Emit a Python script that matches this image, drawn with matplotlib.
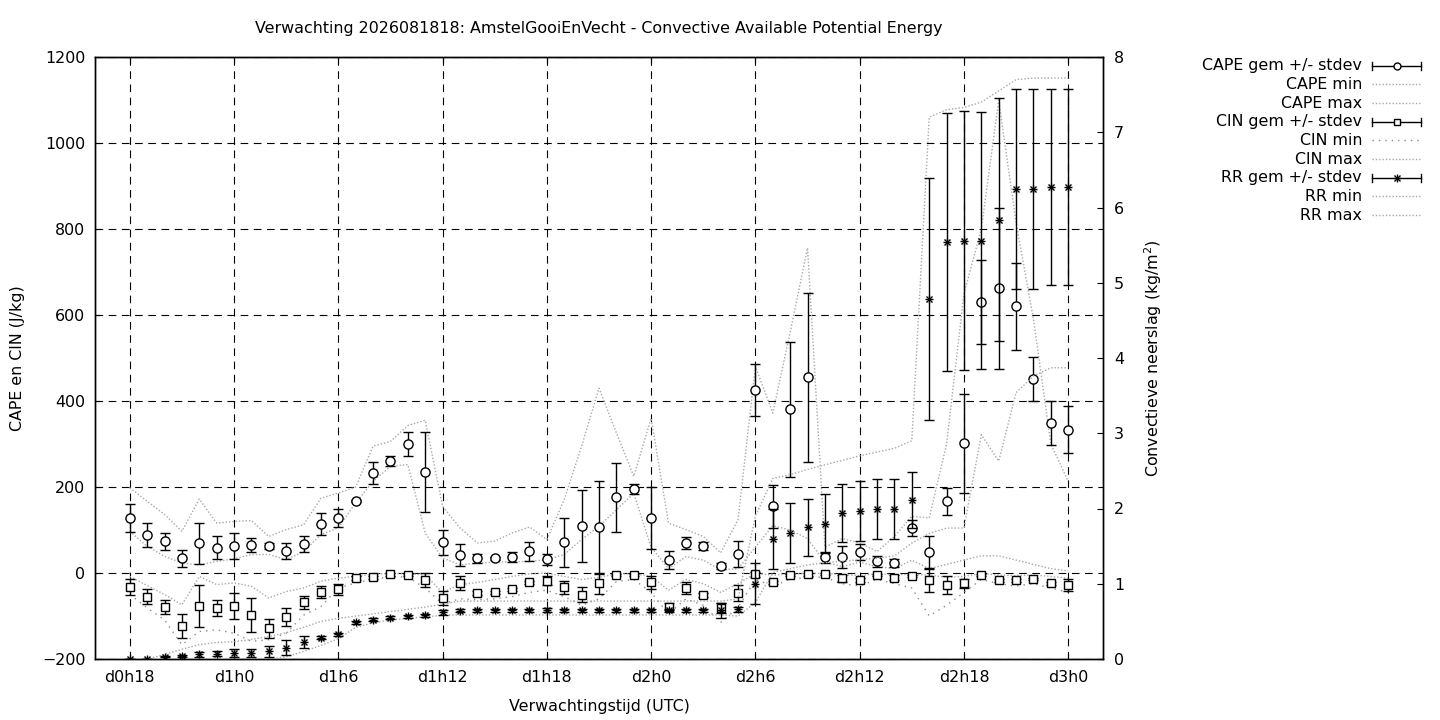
import matplotlib
matplotlib.use('Agg')
import matplotlib.pyplot as plt
from matplotlib.lines import Line2D

FS = 11.4
plt.rcParams['font.family'] = ['DejaVu Sans']
plt.rcParams['font.size'] = FS
plt.rcParams['lines.scale_dashes'] = False

# ---------------- data ----------------
hours = list(range(18, 73))
tick_hours = [18, 24, 30, 36, 42, 48, 54, 60, 66, 72]
tick_labels = ['d0h18', 'd1h0', 'd1h6', 'd1h12', 'd1h18', 'd2h0', 'd2h6', 'd2h12', 'd2h18', 'd3h0']

cape_mean = [128, 88, 74, 34, 69, 59, 63, 65, 63, 51, 67, 114, 128,
             167, 233, 260, 299, 235,
             71, 42, 34, 34, 37, 51, 32, 71, 109, 106, 176, 195,
             127, 30, 70, 63, 16, 44,
             425, 155, 381, 455, 37, 37, 49, 27,
             23, 104, 48, 167, 302, 630, 662, 620, 451, 348, 333]
cape_sd = [33, 28, 20, 19, 47, 27, 31, 16, 7, 19, 19, 25, 22,
           3, 25, 12, 28, 93,
           30, 25, 10, 4, 11, 22, 13, 57, 84, 108, 80, 11,
           72, 21, 14, 10, 7, 31,
           60, 50, 157, 196, 13, 26, 18, 13,
           10, 19, 38, 31, 115, 97, 187, 102, 52, 51, 55]
cape_min = [97, 62, 39, 23, 19, 27, 33, 43, 43, 31, 50, 89, 105,
            163, 213, 248, 252, 93,
            35, 19, 23, 25, 26, 27, 31, 43, 78, 109, 147, 185,
            60, 10, 38, 30, 7, 10,
            60, 110, 100, 80, 25, 15, 25, 15,
            10, 30, 10, 20, 30, 40, 40, 30, 20, 10, 5]
cape_max = [198, 167, 136, 97, 172, 116, 120, 122, 85, 101, 112, 174, 186,
            200, 295, 306, 343, 355,
            155, 105, 70, 74, 93, 107, 78, 171, 295, 430, 326, 225,
            360, 116, 101, 85, 47, 124,
            480, 372, 560, 756, 60, 80, 70, 50,
            85, 132, 128, 300, 650, 800, 1100, 814, 590, 300, 213]

cin_mean = [-32, -55, -79, -123, -77, -82, -77, -98, -129, -102, -68, -44, -38,
            -12, -10, -3, -5, -16,
            -58, -23, -47, -45, -38, -22, -18, -33, -50, -24, -5, -5,
            -22, -78, -34, -51, -82, -47,
            -3, -22, -5, -3, -2, -12, -16, -5,
            -11, -7, -17, -28, -24, -5, -17, -17, -14, -24, -28]
cin_sd = [18, 18, 17, 27, 48, 19, 31, 40, 21, 21, 15, 14, 12,
          4, 3, 3, 3, 17,
          16, 17, 4, 4, 3, 3, 10, 15, 17, 24, 3, 3,
          15, 8, 14, 5, 12, 19,
          6, 4, 3, 3, 3, 8, 4, 3,
          6, 3, 28, 21, 11, 3, 4, 4, 3, 3, 13]
cin_min = [-50, -81, -109, -167, -136, -132, -140, -159, -155, -140, -98, -78, -35,
           -23, -15, -8, -10, -35,
           -72, -60, -62, -60, -55, -45, -40, -55, -75, -60, -20, -15,
           -45, -95, -60, -75, -115, -80,
           -15, -30, -15, -10, -10, -25, -30, -15,
           -25, -35, -100, -75, -45, -15, -25, -30, -25, -35, -45]
cin_max = [-8, -29, -50, -74, -8, -27, -23, -31, -58, -43, -35, -19, -12,
           -8, -3, -1, -1, -5,
           -45, -27, -22, -15, -8, -2, 0, -8, -15, -10, -2, -2,
           -8, -40, -15, -25, -45, -25,
           -1, -5, -2, -1, -1, -4, -6, -2,
           -4, -3, -5, -10, -8, -1, -5, -6, -5, -8, -12]

rr_mean = [0.0, 0.0, 0.03, 0.04, 0.06, 0.07, 0.08, 0.08, 0.10, 0.15, 0.23, 0.28, 0.33,
           0.49, 0.52, 0.55, 0.57, 0.58,
           0.62, 0.64, 0.65, 0.65, 0.65, 0.65, 0.65, 0.65, 0.65, 0.65, 0.65, 0.65,
           0.65, 0.65, 0.65, 0.65, 0.65, 0.66,
           1.00, 1.59, 1.67, 1.75, 1.80, 1.94, 1.97, 1.99,
           1.99, 2.11, 4.78, 5.54, 5.56, 5.56, 5.84, 6.25, 6.25, 6.27, 6.27]
rr_sd = [0.0, 0.0, 0.01, 0.01, 0.03, 0.03, 0.05, 0.05, 0.07, 0.10, 0.08, 0.02, 0.02,
         0.02, 0.02, 0.02, 0.02, 0.02,
         0.03, 0.02, 0.02, 0.02, 0.02, 0.02, 0.03, 0.02, 0.02, 0.02, 0.02, 0.02,
         0.02, 0.02, 0.02, 0.02, 0.10, 0.03,
         0.27, 0.40, 0.40, 0.38, 0.39, 0.39, 0.40, 0.40,
         0.40, 0.37, 1.61, 1.71, 1.72, 1.71, 1.61, 1.33, 1.33, 1.30, 1.30]
rr_min = [0, 0, 0, 0, 0, 0, 0, 0, 0, 0.03, 0.10, 0.18, 0.27,
          0.42, 0.48, 0.52, 0.54, 0.56,
          0.58, 0.585, 0.585, 0.585, 0.585, 0.585, 0.585, 0.585, 0.585, 0.585, 0.585, 0.585,
          0.585, 0.585, 0.585, 0.585, 0.585, 0.57,
          0.75, 1.15, 1.20, 1.25, 1.28, 1.30, 1.32, 1.34,
          1.37, 1.54, 1.67, 1.74, 1.74, 2.98, 2.63, 3.54, 3.76, 3.87, 3.87]
rr_max = [0, 0, 0.06, 0.13, 0.19, 0.22, 0.23, 0.26, 0.30, 0.35, 0.42, 0.50, 0.54,
          0.57, 0.60, 0.63, 0.66, 0.69,
          0.73, 0.77, 0.77, 0.77, 0.77, 0.77, 0.77, 0.77, 0.77, 0.77, 0.77, 0.77,
          0.77, 0.77, 0.77, 0.77, 0.77, 0.80,
          1.90, 2.40, 2.45, 2.52, 2.58, 2.64, 2.70, 2.75,
          2.80, 2.90, 7.20, 7.30, 7.33, 7.40, 7.55, 7.70, 7.72, 7.72, 7.72]

title = 'Verwachting 2026081818: AmstelGooiEnVecht - Convective Available Potential Energy'
legend_labels = ['CAPE gem +/- stdev', 'CAPE min', 'CAPE max',
                 'CIN gem +/- stdev', 'CIN min', 'CIN max',
                 'RR gem +/- stdev', 'RR min', 'RR max']

# ---------------- styles ----------------
W, H = 1440, 720
L, R, T, B = 95, 1103, 57, 659
GRAY = '#a8a8a8'
GRAY2 = '#8c8c8c'
dot_style = dict(color=GRAY, lw=1.0, linestyle=(0, (1.0, 1.4)))
cinmin_style = dict(color=GRAY2, lw=1.0, linestyle=(0, (1.0, 3.6)))
eb_style = dict(ecolor='black', elinewidth=1.0, capsize=3.6, capthick=1.0,
                color='black', linestyle='none')

fig = plt.figure(figsize=(W / 100, H / 100), dpi=100)
ax = fig.add_axes([L / W, 1 - B / H, (R - L) / W, (B - T) / H])
ax2 = ax.twinx()

ax.set_xlim(16, 74)
ax.set_ylim(-200, 1200)
ax2.set_ylim(0, 8)

# grid
ax.set_axisbelow(True)
ax.grid(True, color='black', lw=0.8, linestyle=(0, (5.5, 4.0)))

# CAPE
ax.errorbar(hours, cape_mean, yerr=cape_sd, marker='o', ms=6.6, mfc='white', mec='black',
            mew=1.0, zorder=5, **eb_style)
ax.plot(hours, cape_min, zorder=3, **dot_style)
ax.plot(hours, cape_max, zorder=3, **dot_style)

# CIN
ax.errorbar(hours, cin_mean, yerr=cin_sd, marker='s', ms=6.0, mfc='white', mec='black',
            mew=1.0, zorder=5, **eb_style)
ax.plot(hours, cin_min, zorder=3, **cinmin_style)
ax.plot(hours, cin_max, zorder=3, **dot_style)

# RR (right axis)
ax2.errorbar(hours, rr_mean, yerr=rr_sd, marker='none', zorder=5, **eb_style)
ax2.plot(hours, rr_mean, linestyle='none', marker='+', ms=6.0, mew=1.0, color='black', zorder=6)
ax2.plot(hours, rr_mean, linestyle='none', marker='x', ms=4.4, mew=1.0, color='black', zorder=6)
ax2.plot(hours, rr_min, zorder=3, **dot_style)
ax2.plot(hours, rr_max, zorder=3, **dot_style)

# ticks
ax.set_xticks(tick_hours)
ax.set_xticklabels(tick_labels)
ax.set_yticks(list(range(-200, 1201, 200)))
ax2.set_yticks(list(range(0, 9)))
ax.tick_params(axis='x', direction='in', length=4.5, width=0.8, pad=8, top=True, labelsize=FS)
ax.tick_params(axis='y', direction='in', length=4.5, width=0.8, pad=7, labelsize=FS)
ax2.tick_params(axis='y', direction='in', length=4.5, width=0.8, pad=8, labelsize=FS)
for a in (ax, ax2):
    for s in a.spines.values():
        s.set_linewidth(1.0)
        s.set_color('black')

# labels
fig.text(599 / W, 1 - 29 / H, title, ha='center', va='center', fontsize=FS)
fig.text(599 / W, 1 - 706 / H, 'Verwachtingstijd (UTC)', ha='center', va='center', fontsize=FS)
fig.text(18 / W, 1 - 358 / H, 'CAPE en CIN (J/kg)', ha='center', va='center', rotation=90, fontsize=FS)
fig.text(1153 / W, 1 - 358 / H, 'Convectieve neerslag (kg/m$^2$)', ha='center', va='center',
         rotation=90, fontsize=FS)

# legend (manual, gnuplot-like)
def fx(px):
    return px / W

def fy(py):
    return 1 - py / H

x0, x1 = 1372, 1421
xm = (x0 + x1) / 2
leg_y0, leg_dy = 65.7, 18.67
for i, lab in enumerate(legend_labels):
    y = leg_y0 + i * leg_dy
    fig.text(fx(1362), fy(y), lab, ha='right', va='center', fontsize=FS)
    if 'gem' in lab:
        fig.add_artist(Line2D([fx(x0), fx(x1)], [fy(y), fy(y)], color='black', lw=1.0))
        for xe in (x0, x1):
            fig.add_artist(Line2D([fx(xe), fx(xe)], [fy(y - 4), fy(y + 4)], color='black', lw=1.0))
        if lab.startswith('CAPE'):
            fig.add_artist(Line2D([fx(xm)], [fy(y)], marker='o', ms=5, mfc='white', mec='black', mew=1.0))
        elif lab.startswith('CIN'):
            fig.add_artist(Line2D([fx(xm)], [fy(y)], marker='s', ms=5, mfc='white', mec='black', mew=1.0))
        else:
            fig.add_artist(Line2D([fx(xm)], [fy(y)], marker='+', ms=5.5, mew=1.0, color='black'))
            fig.add_artist(Line2D([fx(xm)], [fy(y)], marker='x', ms=4.0, mew=1.0, color='black'))
    elif lab == 'CIN min':
        fig.add_artist(Line2D([fx(x0), fx(x1)], [fy(y), fy(y)], **cinmin_style))
    else:
        fig.add_artist(Line2D([fx(x0), fx(x1)], [fy(y), fy(y)], **dot_style))

fig.savefig('out.png', dpi=100)
